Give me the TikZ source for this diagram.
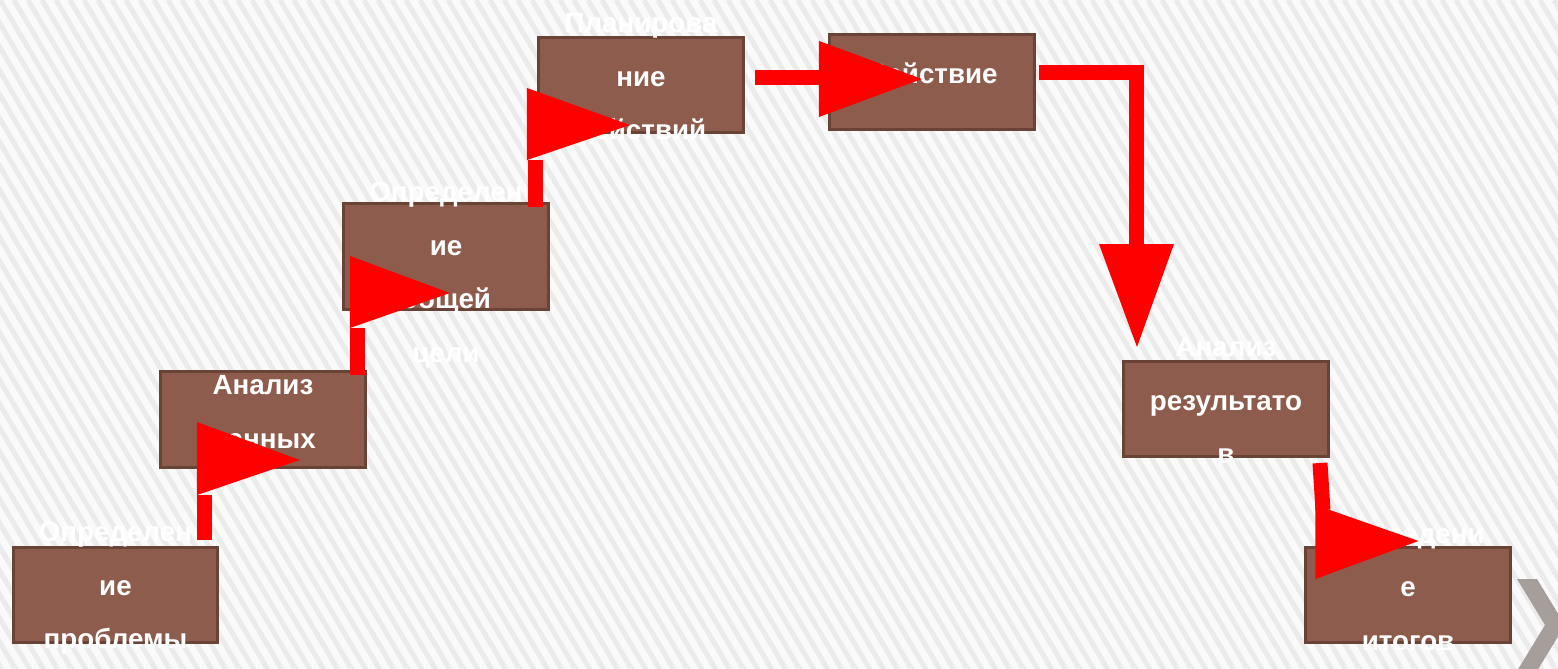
\documentclass[tikz,border=0pt]{standalone}
\usepackage{fontspec}
\setmainfont{Liberation Sans}
\usetikzlibrary{calc, positioning}
\definecolor{boxfill}{RGB}{142,92,76}
\definecolor{boxline}{RGB}{104,67,54}
\definecolor{arrowred}{RGB}{255,0,0}
\definecolor{stripe}{RGB}{235,235,235}
\definecolor{chevron}{RGB}{166,158,155}

\begin{document}
\begin{tikzpicture}[
    x=0.02cm, y=-0.02cm,
    stepbox/.style={draw=boxline, fill=boxfill, line width=0.06cm, minimum width=4.1cm, minimum height=1.92cm, inner sep=0pt},
    steptext/.style={text=white, font=\fontsize{15.8}{30.5}\selectfont\bfseries, align=center, inner sep=0pt},
    shaft/.style={draw=arrowred, line width=0.3cm},
    head/.style={fill=arrowred, draw=none},
    ]
    \useasboundingbox (0,0) rectangle (1558,669);
    \begin{scope}
      \clip (0,0) rectangle (1558,669);
      \fill[white!98!black] (0,0) rectangle (1558,669);
      \foreach \x in {-420,-406,...,1570}
        \draw[stripe, line width=0.1cm] (\x,0) -- ++(400,680);
      \fill[chevron] (1517,579) -- (1537,579) -- (1565,625) -- (1537,671) -- (1517,671) -- (1545,625) -- cycle;
    \end{scope}
    \node[stepbox] (B1) at (115.5,595) {};
    \node[stepbox] (B2) at (263,419.5) {};
    \node[stepbox, minimum height=2.12cm] (B3) at (446,256.5) {};
    \node[stepbox] (B4) at (641,85) {};
    \node[stepbox] (B5) at (932,82) {};
    \node[stepbox] (B6) at (1226,409) {};
    \node[stepbox] (B7) at (1408,595) {};
    \node[steptext] (T1) at ($(B1.center)+(0,-6.5)$) {Определен\\ие\\проблемы};
    \node[steptext] (T2) at ($(B2.center)+(0,-5)$) {Анализ\\данных};
    \node[steptext] (T3) at ($(B3.center)+(0,18.5)$) {Определен\\ие\\общей\\цели};
    \node[steptext] (T4) at ($(B4.center)+(0,-5.5)$) {Планирова\\ние\\действий};
    \node[steptext] (T5) at ($(B5.center)+(0,-6)$) {Действие};
    \node[steptext] (T6) at ($(B6.center)+(0,-8.5)$) {Анализ\\результато\\в};
    \node[steptext] (T7) at ($(B7.center)+(0,-7.5)$) {Подведени\\е\\итогов};
    \draw[shaft] ($(B1.north east)+(-15,-5.5)$) -- ++(0,-45) coordinate (H1);
    \fill[head] ($(H1)+(-7.5,0)$) -- ++(0,-73) -- ++(103,38) -- cycle;
    \draw[shaft] ($(B2.north east)+(-9,5)$) -- ++(0,-47) coordinate (H2);
    \fill[head] ($(H2)+(-8,0)$) -- ++(0,-72) -- ++(100,37) -- cycle;
    \draw[shaft] ($(B3.north east)+(-14.5,5)$) -- ++(0,-47) coordinate (H3);
    \fill[head] ($(H3)+(-8.5,0)$) -- ++(0,-72) -- ++(103,37) -- cycle;
    \draw[shaft] ($(B4.east)+(10,-7.5)$) -- ++(64,0) coordinate (H4);
    \fill[head] ($(H4)+(0,-36.5)$) -- ++(0,76) -- ++(103,-38) -- cycle;
    \draw[shaft] ($(B5.east)+(3,-9.5)$) -- ++(98,0) -- ++(0,171.5) coordinate (H5);
    \fill[head] ($(H5)+(-38,0)$) -- ++(75,0) -- ++(-37,103) -- cycle;
    \draw[shaft] ($(B6.south east)+(-10,4.5)$) -- ++(3,47) coordinate (H6);
    \fill[head] ($(H6)+(-7.5,-5)$) -- ++(0,74) -- ++(103,-38) -- cycle;
  \end{tikzpicture}
\end{document}
